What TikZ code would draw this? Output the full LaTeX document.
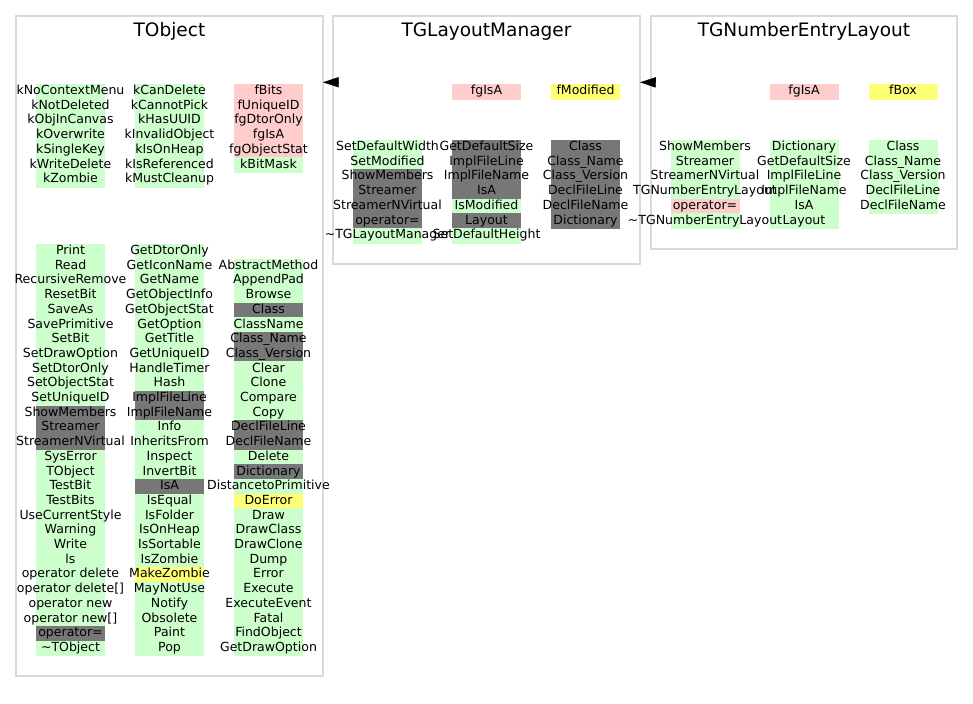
\documentclass[tikz,border=0pt]{standalone}
\usepackage{fontspec}
\setmainfont{DejaVu Sans}
\usetikzlibrary{arrows.meta}

\definecolor{pub}{RGB}{204,255,204}
\definecolor{priv}{RGB}{255,204,204}
\definecolor{prot}{RGB}{255,255,119}
\definecolor{virt}{RGB}{119,119,119}

\pgfdeclarelayer{bg}
\pgfsetlayers{bg,main}

% one column of members: name, x, y of first row, list of text/colour
\newcommand\membcol[4]{%
  \foreach \lbl/\sty [count=\i] in {#4} {
    \begin{pgfonlayer}{bg}
      \node[cell,fill=\sty,draw=\sty] (#1_f\i) at (#2,{#3+14.7*(\i-1)}) {};
    \end{pgfonlayer}
    \node[txt] (#1_t\i) at (#1_f\i) {\lbl};
  }}

\begin{document}
\begin{tikzpicture}[x=0.75pt,y=-0.75pt,
  cell/.style={inner sep=0pt,minimum width=51pt,minimum height=11.025pt,line width=0.2pt},
  txt/.style={inner sep=0pt,font=\fontsize{9.4}{11}\selectfont,text height=7pt,text depth=2.2pt},
  ttl/.style={anchor=base,inner sep=0pt,font=\fontsize{13.9}{16}\selectfont},
  clsbox/.style={draw=gray!30,line width=1.1pt,inner sep=0pt,outer sep=0pt},
  inh/.style={-{Triangle[length=11.8pt,width=7.7pt]},line width=0.4pt}]

\useasboundingbox (0,0) rectangle (973,703) ;

\node[clsbox,minimum width=230.25pt,minimum height=495pt] (box_obj) at (169.5,346) {} ;
\node[clsbox,minimum width=230.25pt,minimum height=186pt] (box_lm) at (486.5,140) {} ;
\node[clsbox,minimum width=229.5pt,minimum height=174.75pt] (box_nel) at (804,132.6) {} ;

\node[ttl] (ttl_obj) at (169.5,36.8) {TObject} ;
\node[ttl] (ttl_lm) at (486.5,36.8) {TGLayoutManager} ;
\node[ttl] (ttl_nel) at (804,36.8) {TGNumberEntryLayout} ;

% TObject
\membcol{obj_d1}{70.5}{91.35}{kNoContextMenu/pub, kNotDeleted/pub, kObjInCanvas/pub, kOverwrite/pub, kSingleKey/pub, kWriteDelete/pub, kZombie/pub}
\membcol{obj_d2}{169.5}{91.35}{kCanDelete/pub, kCannotPick/pub, kHasUUID/pub, kInvalidObject/pub, kIsOnHeap/pub, kIsReferenced/pub, kMustCleanup/pub}
\membcol{obj_d3}{268.5}{91.35}{fBits/priv, fUniqueID/priv, fgDtorOnly/priv, fgIsA/priv, fgObjectStat/priv, kBitMask/pub}

\membcol{obj_m1}{70.5}{251.35}{Print/pub, Read/pub, RecursiveRemove/pub, ResetBit/pub, SaveAs/pub, SavePrimitive/pub, SetBit/pub, SetDrawOption/pub, SetDtorOnly/pub, SetObjectStat/pub, SetUniqueID/pub, ShowMembers/virt, Streamer/virt, StreamerNVirtual/virt, SysError/pub, TObject/pub, TestBit/pub, TestBits/pub, UseCurrentStyle/pub, Warning/pub, Write/pub, ls/pub, operator delete/pub, operator delete[]/pub, operator new/pub, operator new[]/pub, operator=/virt, \textasciitilde TObject/pub}
\membcol{obj_m2}{169.5}{251.35}{GetDtorOnly/pub, GetIconName/pub, GetName/pub, GetObjectInfo/pub, GetObjectStat/pub, GetOption/pub, GetTitle/pub, GetUniqueID/pub, HandleTimer/pub, Hash/pub, ImplFileLine/virt, ImplFileName/virt, Info/pub, InheritsFrom/pub, Inspect/pub, InvertBit/pub, IsA/virt, IsEqual/pub, IsFolder/pub, IsOnHeap/pub, IsSortable/pub, IsZombie/pub, MakeZombie/prot, MayNotUse/pub, Notify/pub, Obsolete/pub, Paint/pub, Pop/pub}
\membcol{obj_m3}{268.5}{266.05}{AbstractMethod/pub, AppendPad/pub, Browse/pub, Class/virt, ClassName/pub, Class\_Name/virt, Class\_Version/virt, Clear/pub, Clone/pub, Compare/pub, Copy/pub, DeclFileLine/virt, DeclFileName/virt, Delete/pub, Dictionary/virt, DistancetoPrimitive/pub, DoError/prot, Draw/pub, DrawClass/pub, DrawClone/pub, Dump/pub, Error/pub, Execute/pub, ExecuteEvent/pub, Fatal/pub, FindObject/pub, GetDrawOption/pub}

% TGLayoutManager
\membcol{lm_d2}{486.5}{91.35}{fgIsA/priv}
\membcol{lm_d3}{585.5}{91.35}{fModified/prot}
\membcol{lm_m1}{387.5}{147.35}{SetDefaultWidth/pub, SetModified/pub, ShowMembers/virt, Streamer/virt, StreamerNVirtual/virt, operator=/virt, \textasciitilde TGLayoutManager/pub}
\membcol{lm_m2}{486.5}{147.35}{GetDefaultSize/virt, ImplFileLine/virt, ImplFileName/virt, IsA/virt, IsModified/pub, Layout/virt, SetDefaultHeight/pub}
\membcol{lm_m3}{585.5}{147.35}{Class/virt, Class\_Name/virt, Class\_Version/virt, DeclFileLine/virt, DeclFileName/virt, Dictionary/virt}

% TGNumberEntryLayout
\membcol{nel_d2}{804}{91.35}{fgIsA/priv}
\membcol{nel_d3}{903}{91.35}{fBox/prot}
\membcol{nel_m1}{705}{147.35}{ShowMembers/pub, Streamer/pub, StreamerNVirtual/pub, TGNumberEntryLayout/pub, operator=/priv, \textasciitilde TGNumberEntryLayout/pub}
\membcol{nel_m2}{804}{147.35}{Dictionary/pub, GetDefaultSize/pub, ImplFileLine/pub, ImplFileName/pub, IsA/pub, Layout/pub}
\membcol{nel_m3}{903}{147.35}{Class/pub, Class\_Name/pub, Class\_Version/pub, DeclFileLine/pub, DeclFileName/pub}

\draw[inh] ([yshift=-49.7pt]box_lm.north west) -- ([yshift=-49.7pt]box_obj.north east) ;
\draw[inh] ([yshift=-49.7pt]box_nel.north west) -- ([yshift=-49.7pt]box_lm.north east) ;

\end{tikzpicture}
\end{document}
